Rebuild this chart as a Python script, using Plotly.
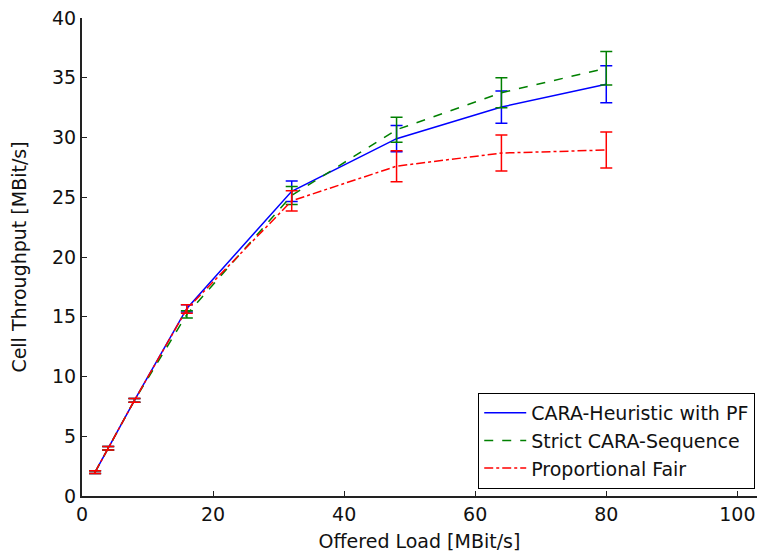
import plotly.graph_objects as go

load = [2, 4, 8, 16, 32, 48, 64, 80]

heur = [2.0, 4.0, 8.0, 15.7, 25.5, 29.9, 32.55, 34.45]
heur_err = [0.12, 0.15, 0.15, 0.3, 0.85, 1.1, 1.35, 1.55]

strict = [2.0, 4.0, 8.0, 15.2, 25.15, 30.65, 33.75, 35.8]
strict_err = [0.12, 0.15, 0.15, 0.3, 0.75, 1.05, 1.25, 1.4]

pf = [2.0, 4.0, 8.0, 15.65, 24.7, 27.6, 28.7, 28.95]
pf_err = [0.12, 0.15, 0.15, 0.35, 0.85, 1.3, 1.5, 1.5]

names = ["CARA-Heuristic with PF", "Strict CARA-Sequence", "Proportional Fair"]
colors = ["#0000ff", "#008000", "#ff0000"]
dashes = ["solid", "dash", "dashdot"]
series = [(heur, heur_err), (strict, strict_err), (pf, pf_err)]

fig = go.Figure()
for (y, e), n, c, d in zip(series, names, colors, dashes):
    fig.add_trace(go.Scatter(
        x=load, y=y, name=n, mode="lines",
        line=dict(color=c, width=1.5, dash=d),
        error_y=dict(type="data", array=e, visible=True, color=c,
                     thickness=1.5, width=6),
    ))

FS = 19
axis_common = dict(
    showgrid=False, zeroline=False, showline=True, linecolor="#222222",
    linewidth=2, ticks="inside", ticklen=5, tickwidth=1, tickcolor="#222222",
    tickfont=dict(family="DejaVu Sans", size=FS, color="#111111"),
)

fig.update_layout(
    width=757, height=557,
    margin=dict(l=82, r=0, t=18, b=61),
    paper_bgcolor="white", plot_bgcolor="white",
    font=dict(family="DejaVu Sans", size=FS, color="#111111"),
    xaxis=dict(range=[0, 103], tickvals=[0, 20, 40, 60, 80, 100],
               title=dict(text="Offered Load [MBit/s]", standoff=11,
                          font=dict(size=FS)),
               **axis_common),
    yaxis=dict(range=[0, 40], tickvals=[0, 5, 10, 15, 20, 25, 30, 35, 40],
               title=dict(text="Cell Throughput [MBit/s]", standoff=20,
                          font=dict(size=FS)),
               **axis_common),
    legend=dict(x=0.587, y=0.015, xanchor="left", yanchor="bottom",
                bordercolor="black", borderwidth=1, bgcolor="white",
                font=dict(family="DejaVu Sans", size=FS),
                tracegroupgap=0, itemwidth=42),
    showlegend=True,
)

fig.write_html("out.html")
